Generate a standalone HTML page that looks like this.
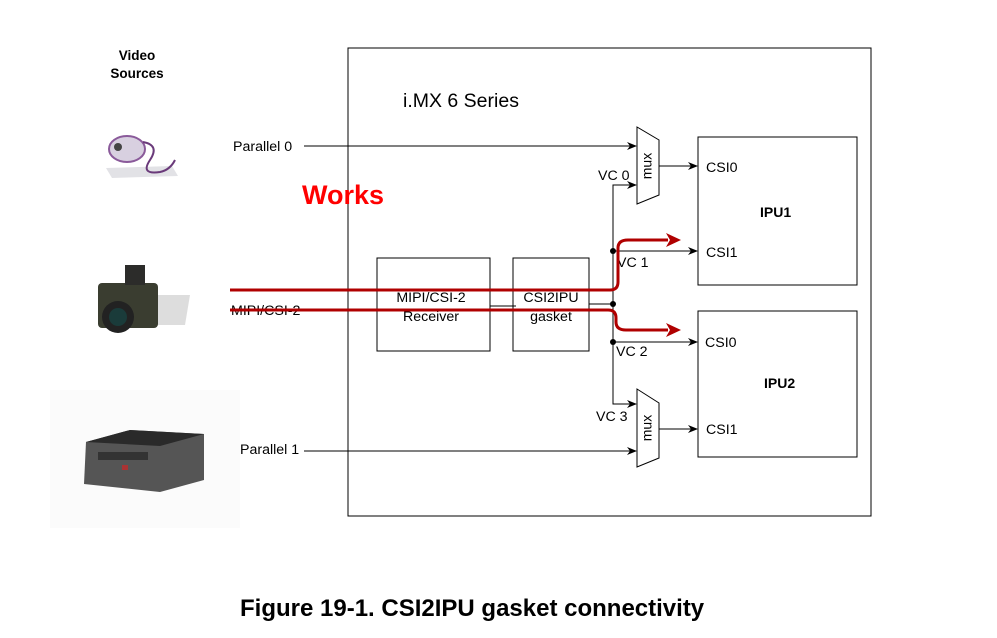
<!DOCTYPE html>
<html><head><meta charset="utf-8"><style>
html,body{margin:0;padding:0;background:#fff}
svg{display:block;font-family:"Liberation Sans",Arial,sans-serif}
</style></head><body>
<svg width="997" height="638" viewBox="0 0 997 638" xmlns="http://www.w3.org/2000/svg">
<defs>
<marker id="a" markerWidth="10" markerHeight="8" refX="9" refY="4" orient="auto" markerUnits="userSpaceOnUse"><path d="M0,0 L10,4 L0,8 L3,4 Z" fill="#000"/></marker>
</defs>
<rect x="50" y="390" width="190" height="138" fill="#fbfbfb"/>
<text x="137" y="60" font-size="13.5" font-weight="bold" text-anchor="middle">Video</text>
<text x="137" y="78" font-size="13.5" font-weight="bold" text-anchor="middle">Sources</text>
<g>
<path d="M106,168 L172,166 L178,176 L112,178 Z" fill="#e2e2e6"/>
<ellipse cx="127" cy="149" rx="18" ry="13" fill="#d8d0e0" stroke="#8a5a9a" stroke-width="2"/>
<circle cx="118" cy="147" r="4" fill="#444"/>
<path d="M143,142 Q160,145 150,160 Q140,175 160,172 Q170,170 175,160" fill="none" stroke="#6a3a7a" stroke-width="2"/>
</g>
<g>
<path d="M150,295 L190,295 L185,325 L150,325 Z" fill="#ddd"/>
<rect x="98" y="283" width="60" height="45" rx="4" fill="#3a3d30"/>
<rect x="125" y="265" width="20" height="20" fill="#2c2c2a"/>
<circle cx="118" cy="317" r="16" fill="#222"/>
<circle cx="118" cy="317" r="9" fill="#1a3b3a"/>
</g>
<g>
<path d="M86,442 L130,430 L204,434 L204,480 L160,492 L84,484 Z" fill="#555"/>
<path d="M86,442 L130,430 L204,434 L160,446 Z" fill="#2a2a2a"/>
<rect x="98" y="452" width="50" height="8" fill="#333"/>
<rect x="122" y="465" width="6" height="5" fill="#a33"/>
</g>
<rect x="348" y="48" width="523" height="468" fill="none" stroke="#000" stroke-width="1"/>
<text x="403" y="107" font-size="19.5">i.MX 6 Series</text>
<text x="233" y="151" font-size="14.2">Parallel 0</text>
<text x="240" y="454" font-size="14.2">Parallel 1</text>
<text x="231" y="315" font-size="14.2">MIPI/CSI-2</text>
<text x="302" y="204" font-size="27" font-weight="bold" fill="#f00">Works</text>
<g stroke="#000" stroke-width="1" fill="none">
<line x1="304" y1="146" x2="636" y2="146" marker-end="url(#a)"/>
<line x1="304" y1="451" x2="636" y2="451" marker-end="url(#a)"/>
<path d="M637,127 L659,140 L659,195 L637,204 Z" fill="#fff"/>
<path d="M637,389 L659,403 L659,458 L637,467 Z" fill="#fff"/>
<line x1="659" y1="166" x2="697" y2="166" marker-end="url(#a)"/>
<line x1="659" y1="429" x2="697" y2="429" marker-end="url(#a)"/>
<rect x="698" y="137" width="159" height="148"/>
<rect x="698" y="311" width="159" height="146"/>
<rect x="377" y="258" width="113" height="93"/>
<rect x="513" y="258" width="76" height="93"/>
<line x1="490" y1="306" x2="516" y2="306"/>
<line x1="589" y1="304" x2="613" y2="304"/>
<path d="M636,185 L613,185 L613,404 L636,404" />
<line x1="626" y1="185" x2="636" y2="185" marker-end="url(#a)"/>
<line x1="626" y1="404" x2="636" y2="404" marker-end="url(#a)"/>
<line x1="613" y1="251" x2="697" y2="251" marker-end="url(#a)"/>
<line x1="613" y1="342" x2="697" y2="342" marker-end="url(#a)"/>
</g>
<g fill="#000"><circle cx="613" cy="251" r="3"/><circle cx="613" cy="304" r="3"/><circle cx="613" cy="342" r="3"/></g>
<text x="648" y="166" font-size="14" transform="rotate(-90 648 166)" text-anchor="middle" dominant-baseline="middle">mux</text>
<text x="648" y="428" font-size="14" transform="rotate(-90 648 428)" text-anchor="middle" dominant-baseline="middle">mux</text>
<g font-size="14.2">
<text x="598" y="180">VC 0</text>
<text x="617" y="267">VC 1</text>
<text x="616" y="356">VC 2</text>
<text x="596" y="421">VC 3</text>
<text x="706" y="172">CSI0</text>
<text x="706" y="257">CSI1</text>
<text x="705" y="347">CSI0</text>
<text x="706" y="434">CSI1</text>
<text x="431" y="302" text-anchor="middle">MIPI/CSI-2</text>
<text x="431" y="321" text-anchor="middle">Receiver</text>
<text x="551" y="302" text-anchor="middle">CSI2IPU</text>
<text x="551" y="321" text-anchor="middle">gasket</text>
</g>
<text x="760" y="217" font-size="14" font-weight="bold">IPU1</text>
<text x="764" y="388" font-size="14" font-weight="bold">IPU2</text>
<g stroke="#b00000" stroke-width="3" fill="none">
<path d="M230,290 L610,290 Q618,290 618,282 L618,248 Q618,240 628,240 L668,240"/>
<path d="M230,310 L608,310 Q616,310 616,318 L616,322 Q616,330 626,330 L668,330"/>
</g>
<path d="M666,233 L681,240 L666,247 L670,240 Z" fill="#b00000"/>
<path d="M666,323 L681,330 L666,337 L670,330 Z" fill="#b00000"/>
<text x="240" y="616" font-size="24" font-weight="bold">Figure 19-1. CSI2IPU gasket connectivity</text>
</svg>
</body></html>
